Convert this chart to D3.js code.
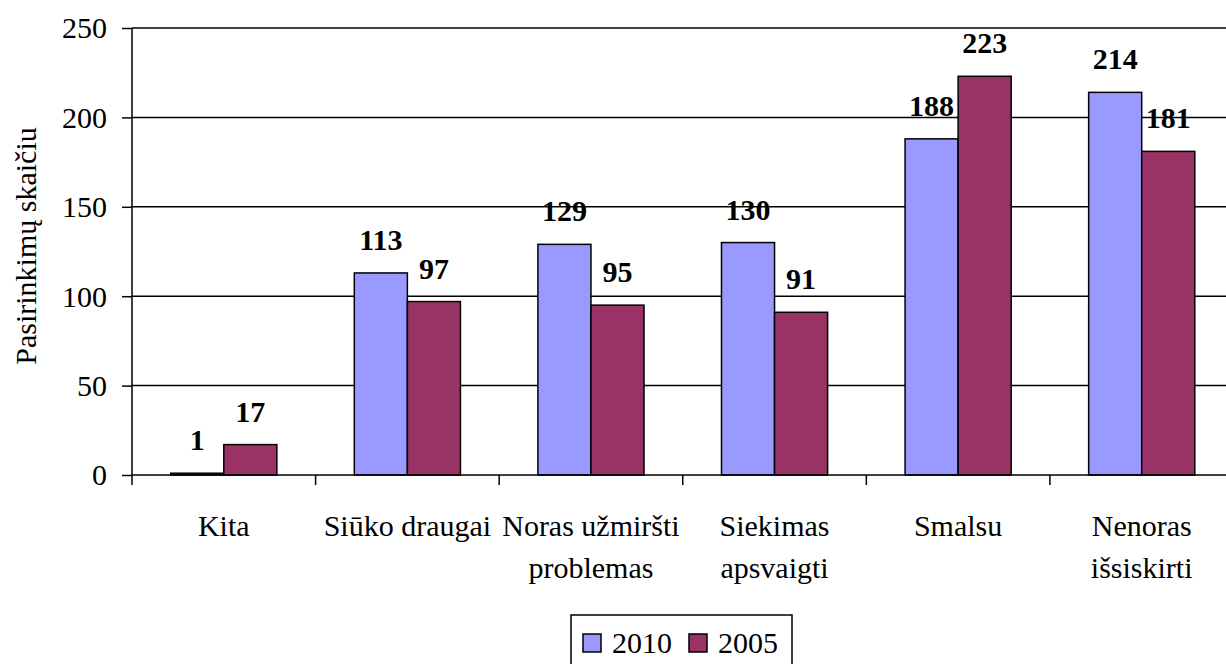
<!DOCTYPE html>
<html><head><meta charset="utf-8">
<script src="https://cdn.jsdelivr.net/npm/d3@7"></script>
<style>body{margin:0;background:#fff}svg{display:block}</style>
</head><body><svg id="c" width="1226" height="664"></svg>
<script>
const categories = [["Kita"],["Siūko draugai"],["Noras užmiršti","problemas"],["Siekimas","apsvaigti"],["Smalsu"],["Nenoras","išsiskirti"]];
const series = ["2010","2005"];
const values2010 = [1,113,129,130,188,214];
const values2005 = [17,97,95,91,223,181];
const yTicks = [0,50,100,150,200,250];
const colors = {"2010":"#9999FF","2005":"#993366"};

(function(){
const FF = '"Liberation Serif", "Times New Roman", serif';
const svg = d3.select("#c").style("font-family",FF);
const pL = 132, pR = 1233.5, pT = 28, pB = 475;
const x = d3.scaleBand().domain(d3.range(categories.length)).range([pL,pR]).paddingInner(0).paddingOuter(0);
const x1 = d3.scaleBand().domain(series).range([0,x.bandwidth()]).paddingOuter(0.73).paddingInner(0);
const y = d3.scaleLinear().domain([0,250]).range([pB,pT]);

// gridlines
svg.append("g").selectAll("line").data(yTicks.filter(d=>d>0)).join("line")
  .attr("x1",pL).attr("x2",1226).attr("y1",d=>y(d)).attr("y2",d=>y(d))
  .attr("stroke","#000").attr("stroke-width",1.5);

// y axis
const ya = svg.append("g").attr("transform",`translate(${pL},0)`)
  .call(d3.axisLeft(y).tickValues(yTicks).tickSize(10).tickPadding(15));
ya.attr("font-family",null).attr("font-size",null);
ya.select(".domain").attr("stroke-width",1.5).attr("d",`M0,${pB}V${pT}`);
ya.selectAll(".tick line").attr("stroke-width",1.5);
ya.selectAll(".tick text").style("font-family",FF).style("font-size","30px").attr("fill","#000").attr("dy","0.33em");

// bars
const data = [];
categories.forEach((c,i)=>{ data.push({i,s:"2010",v:values2010[i]}); data.push({i,s:"2005",v:values2005[i]}); });
svg.append("g").selectAll("rect").data(data).join("rect")
  .attr("x",d=>x(d.i)+x1(d.s)).attr("width",x1.bandwidth())
  .attr("y",d=>y(d.v)).attr("height",d=>y(0)-y(d.v))
  .attr("fill",d=>colors[d.s]).attr("stroke","#000").attr("stroke-width",1.5);

// x axis
const xa = svg.append("g").attr("transform",`translate(0,${pB})`);
xa.append("line").attr("x1",pL).attr("x2",1226).attr("y1",0).attr("y2",0).attr("stroke","#000").attr("stroke-width",1.5);
xa.selectAll("line.t").data(d3.range(categories.length+1)).join("line").attr("class","t")
  .attr("x1",i=>pL+i*x.bandwidth()).attr("x2",i=>pL+i*x.bandwidth())
  .attr("y1",0).attr("y2",10).attr("stroke","#000").attr("stroke-width",1.5);
const cl = svg.append("g").selectAll("text").data(categories.map((c,i)=>({c,i}))).join("text")
  .attr("x",d=>x(d.i)+x.bandwidth()/2).attr("y",536)
  .attr("text-anchor","middle").style("font-size","30px").style("font-family",FF);
cl.selectAll("tspan").data(d=>d.c.map(t=>({t,x:x(d.i)+x.bandwidth()/2}))).join("tspan")
  .attr("x",d=>d.x).attr("dy",(d,j)=>j===0?0:42).text(d=>d.t);

// value labels
svg.append("g").selectAll("text").data(data).join("text")
  .attr("x",d=>x(d.i)+x1(d.s)+x1.bandwidth()/2).attr("y",d=>y(d.v)-23)
  .attr("text-anchor","middle").style("font-size","30px").style("font-weight","bold").style("font-family",FF).text(d=>d.v);

// y title
svg.append("text").attr("transform","translate(36,246) rotate(-90)")
  .attr("text-anchor","middle").style("font-size","30px").style("font-family",FF).text("Pasirinkimų skaičiu");

// legend
const lg = svg.append("g");
lg.append("rect").attr("x",571).attr("y",615).attr("width",221).attr("height",60).attr("fill","#fff").attr("stroke","#000").attr("stroke-width",1.5);
const items = [{s:"2010",sx:583,tx:612},{s:"2005",sx:689,tx:718}];
items.forEach(it=>{
  lg.append("rect").attr("x",it.sx).attr("y",634).attr("width",18).attr("height",18).attr("fill",colors[it.s]).attr("stroke","#000").attr("stroke-width",1.5);
  lg.append("text").attr("x",it.tx).attr("y",653).style("font-size","30px").style("font-family",FF).text(it.s);
});
})();
</script></body></html>
